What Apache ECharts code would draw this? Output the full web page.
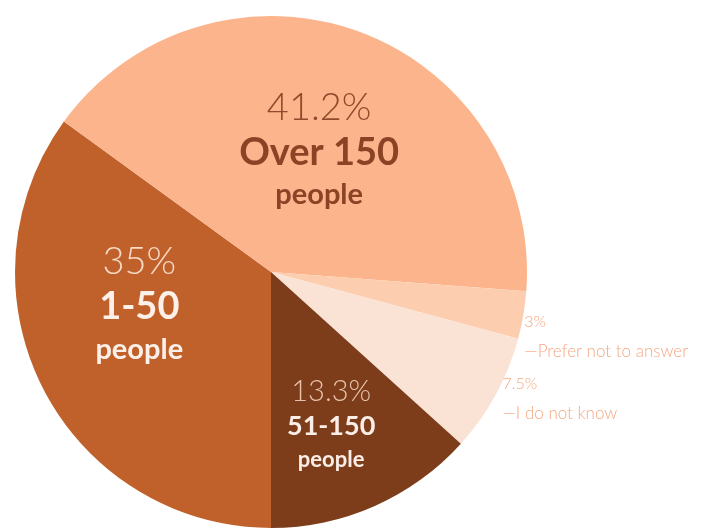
<!DOCTYPE html>
<html>
<head>
<meta charset="utf-8">
<script src="https://cdn.jsdelivr.net/npm/echarts@6/dist/echarts.min.js"></script>
<style>
  html, body { margin: 0; padding: 0; background: #fff; }
  #chart { width: 707px; height: 529px; }
</style>
</head>
<body>
<div id="chart"></div>
<script>
// 数据
var groups = ['1-50', 'Over 150', 'Prefer not to answer', 'I do not know', '51-150']
var shares = [35, 41.2, 3, 7.5, 13.3]
var colors = ['#C0612B', '#FCB48C', '#FDCDB0', '#FAE3D5', '#7D3D1B']
// 标签微调 (dx, dy)
var nudges = [[-15, -27], [3, 1], [-6, 21], [0, 3], [7, 33]]

var myChart = echarts.init(document.getElementById('chart'))

function bigLabel(cls) {
  return {
    show: true,
    position: 'inside',
    formatter: function (p) {
      return '{' + cls + 'P|' + p.value + '%}\n{' + cls + 'N|' + p.name + '}\n{' + cls + 'S|people}'
    }
  }
}

var fontFamily = 'Lato, "Open Sans", sans-serif'

var rich = {
  aP: { fontFamily: fontFamily, fontSize: 38, fontWeight: 300, color: '#F6D9C6', lineHeight: 45 },
  aN: { fontFamily: fontFamily, fontSize: 38, fontWeight: 'bold', color: '#FCF0E8', lineHeight: 45 },
  aS: { fontFamily: fontFamily, fontSize: 29, fontWeight: 'bold', color: '#FCF0E8', lineHeight: 40 },
  bP: { fontFamily: fontFamily, fontSize: 38, fontWeight: 300, color: '#8E4A2A', lineHeight: 45 },
  bN: { fontFamily: fontFamily, fontSize: 38, fontWeight: 'bold', color: '#8A4324', lineHeight: 45 },
  bS: { fontFamily: fontFamily, fontSize: 29, fontWeight: 'bold', color: '#8A4324', lineHeight: 40 },
  cP: { fontFamily: fontFamily, fontSize: 29, fontWeight: 300, color: '#E8C3AC', lineHeight: 36 },
  cN: { fontFamily: fontFamily, fontSize: 27, fontWeight: 'bold', color: '#FBEEE6', lineHeight: 34 },
  cS: { fontFamily: fontFamily, fontSize: 22, fontWeight: 'bold', color: '#FBEEE6', lineHeight: 32 },
  sP: { fontFamily: fontFamily, fontSize: 16, fontWeight: 300, color: '#F5A884', lineHeight: 29 },
  sN: { fontFamily: fontFamily, fontSize: 17, fontWeight: 300, color: '#F5A884', lineHeight: 29 }
}

var smallLabel = {
  show: true,
  position: 'outside',
  align: 'left',
  formatter: function (p) {
    return '{sP|' + p.value + '%}\n{sN|\u2014' + p.name + '}'
  }
}

var labelCls = ['a', 'b', null, null, 'c']

var pieData = groups.map(function (g, i) {
  return {
    name: g,
    value: shares[i],
    itemStyle: { color: colors[i] },
    label: labelCls[i] ? bigLabel(labelCls[i]) : smallLabel
  }
})

var option = {
  animation: false,
  series: [
    {
      type: 'pie',
      center: [271, 272],
      radius: [0, 256],
      startAngle: 270,
      clockwise: true,
      avoidLabelOverlap: false,
      label: { rich: rich },
      labelLine: { show: false, length: 2, length2: 0 },
      labelLayout: function (p) {
        return { dx: nudges[p.dataIndex][0], dy: nudges[p.dataIndex][1] }
      },
      itemStyle: { borderWidth: 0 },
      emphasis: { disabled: true },
      data: pieData
    }
  ]
}

myChart.setOption(option)
</script>
</body>
</html>
